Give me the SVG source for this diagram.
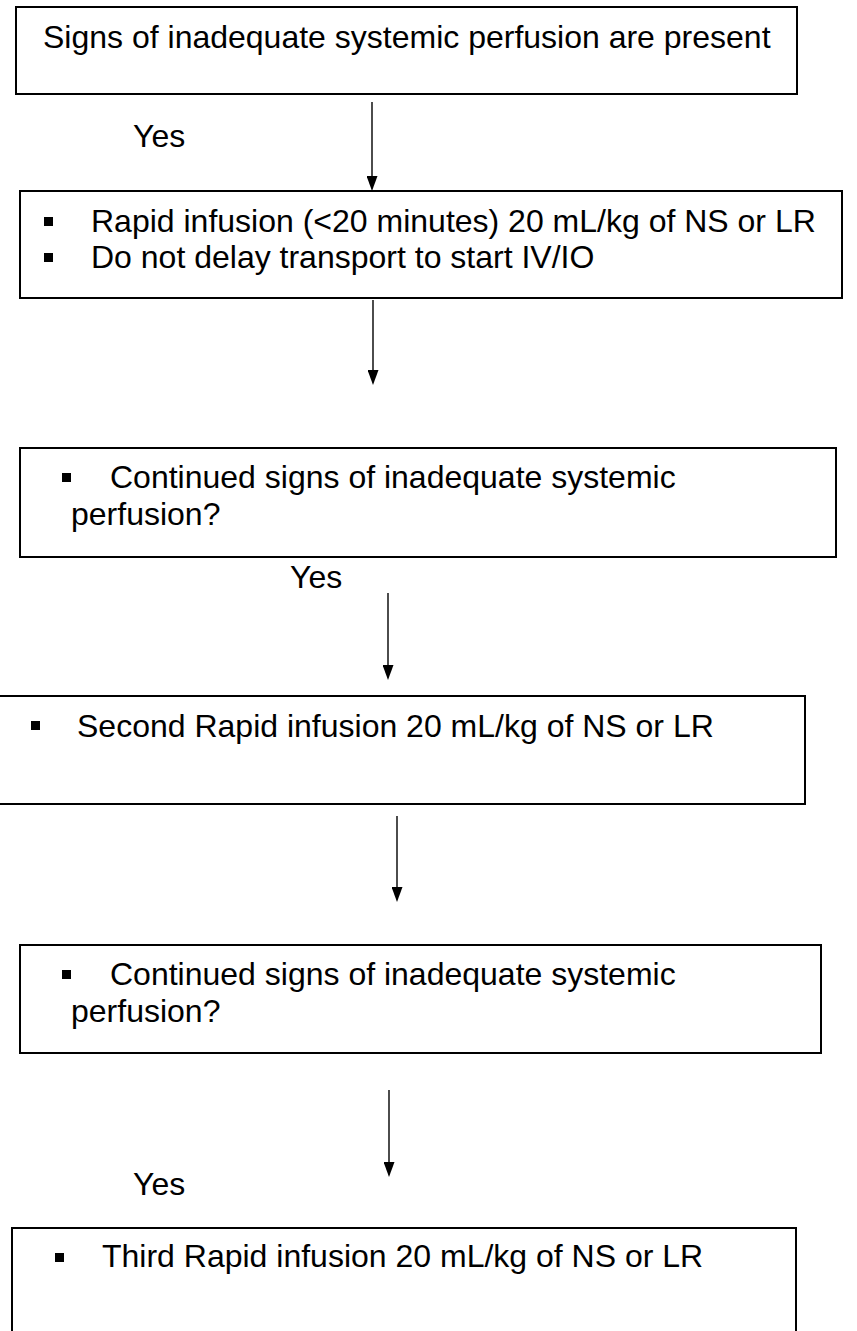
<svg xmlns="http://www.w3.org/2000/svg" width="857" height="1331" viewBox="0 0 857 1331">
  <style>
    .box { fill: #ffffff; stroke: #000000; stroke-width: 2; }
    .txt { font-family: "Liberation Sans", Arial, sans-serif; font-size: 32px; fill: #000000; }
    .bullet { fill: #000000; }
    .flow { stroke: #000000; stroke-width: 1.4; fill: none; marker-end: url(#head); }
  </style>
  <defs>
    <!-- filled triangular arrowhead; tip sits 4px beyond the line end -->
    <marker id="head" markerUnits="userSpaceOnUse" markerWidth="15" markerHeight="11" refX="11" refY="5.5" orient="auto" viewBox="0 0 15 11">
      <path d="M0,0 L15,5.5 L0,11 Z" fill="#000000"/>
    </marker>
  </defs>

  <!-- connectors -->
  <g id="connectors">
    <line class="flow" x1="372" y1="102" x2="372" y2="187"/>
    <line class="flow" x1="373" y1="300" x2="373" y2="381"/>
    <line class="flow" x1="388" y1="593" x2="388" y2="676"/>
    <line class="flow" x1="397" y1="816" x2="397" y2="898"/>
    <line class="flow" x1="389" y1="1090" x2="389" y2="1173"/>
    <text class="txt" x="133" y="147">Yes</text>
    <text class="txt" x="290" y="588">Yes</text>
    <text class="txt" x="133" y="1195">Yes</text>
  </g>

  <!-- start: perfusion signs -->
  <g id="n-signs">
    <rect class="box" x="16" y="7" width="781" height="87"/>
    <text class="txt" x="43" y="48">Signs of inadequate systemic perfusion are present</text>
  </g>

  <!-- first fluid bolus -->
  <g id="n-infusion1">
    <rect class="box" x="20" y="191" width="822" height="107"/>
    <rect class="bullet" x="44" y="217" width="9" height="9"/>
    <text class="txt" x="91" y="232">Rapid infusion (&lt;20 minutes) 20 mL/kg of NS or LR</text>
    <rect class="bullet" x="44" y="253" width="9" height="9"/>
    <text class="txt" x="91" y="268">Do not delay transport to start IV/IO</text>
  </g>

  <!-- reassessment 1 -->
  <g id="n-check1">
    <rect class="box" x="20" y="448" width="816" height="109"/>
    <rect class="bullet" x="62" y="473" width="9" height="9"/>
    <text class="txt" x="110" y="488">Continued signs of inadequate systemic</text>
    <text class="txt" x="71" y="525">perfusion?</text>
  </g>

  <!-- second fluid bolus -->
  <g id="n-infusion2">
    <rect class="box" x="-2" y="696" width="807" height="108"/>
    <rect class="bullet" x="31" y="721" width="9" height="9"/>
    <text class="txt" x="77" y="737">Second Rapid infusion 20 mL/kg of NS or LR</text>
  </g>

  <!-- reassessment 2 -->
  <g id="n-check2">
    <rect class="box" x="20" y="945" width="801" height="108"/>
    <rect class="bullet" x="62" y="970" width="9" height="9"/>
    <text class="txt" x="110" y="985">Continued signs of inadequate systemic</text>
    <text class="txt" x="71" y="1022">perfusion?</text>
  </g>

  <!-- third fluid bolus -->
  <g id="n-infusion3">
    <rect class="box" x="12" y="1228" width="784" height="140"/>
    <rect class="bullet" x="55" y="1253" width="9" height="9"/>
    <text class="txt" x="102" y="1267">Third Rapid infusion 20 mL/kg of NS or LR</text>
  </g>
</svg>
